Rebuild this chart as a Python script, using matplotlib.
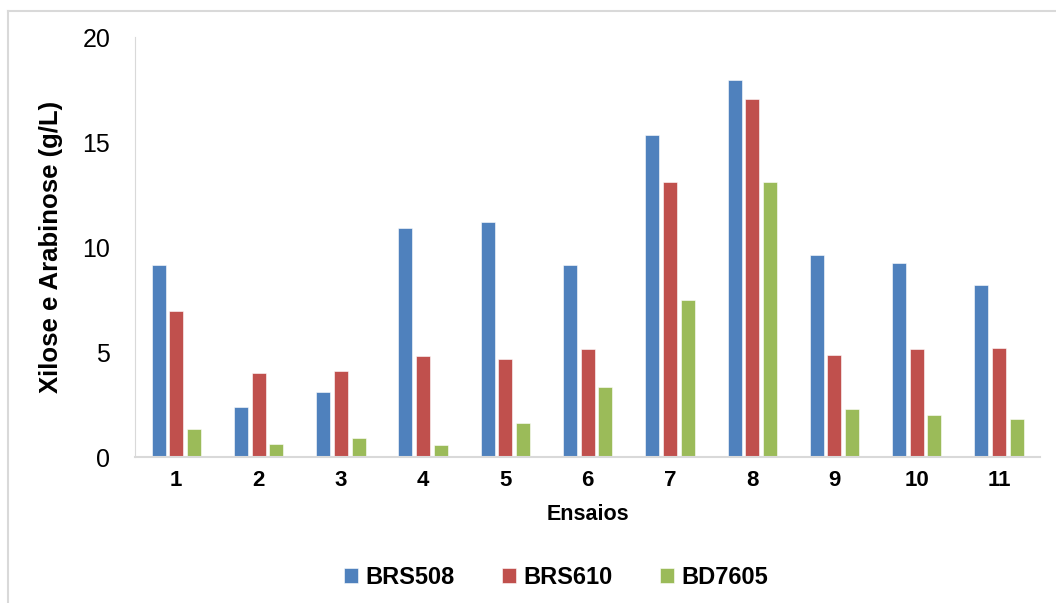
import numpy as np
import matplotlib.pyplot as plt
from matplotlib.lines import Line2D

plt.rcParams['font.family'] = ['Liberation Sans', 'DejaVu Sans']

# Dados
ensaios = ['1', '2', '3', '4', '5', '6', '7', '8', '9', '10', '11']
brs508 = [9.15, 2.4, 3.1, 10.9, 11.2, 9.15, 15.35, 17.95, 9.6, 9.25, 8.2]
brs610 = [6.95, 4.0, 4.1, 4.8, 4.65, 5.15, 13.1, 17.05, 4.85, 5.15, 5.2]
bd7605 = [1.35, 0.6, 0.9, 0.55, 1.6, 3.35, 7.5, 13.1, 2.3, 2.0, 1.8]
series = ['BRS508', 'BRS610', 'BD7605']
cores = ['#4F81BD', '#C0504D', '#9BBB59']

fig = plt.figure(figsize=(10.56, 6.03), dpi=100)
ax = fig.add_axes([0.128, 0.2421, 0.857, 0.6965])

x = np.arange(len(ensaios))
w = 0.17
passo = 0.215
for i, (vals, nome, cor) in enumerate(zip([brs508, brs610, bd7605], series, cores)):
    ax.bar(x + (i - 1) * passo, vals, width=w, color=cor, label=nome,
           edgecolor='white', linewidth=0.4)

ax.set_xlim(-0.5, len(ensaios) - 0.5)
ax.set_ylim(0, 20)
ax.set_yticks([0, 5, 10, 15, 20])
ax.set_xticks(x)
ax.set_xticklabels(ensaios, fontsize=16, fontweight='bold')
ax.tick_params(axis='y', length=0, labelsize=18, pad=18)
ax.tick_params(axis='x', length=0, pad=9)

for s in ['top', 'right']:
    ax.spines[s].set_visible(False)
ax.spines['left'].set_color('#D9D9D9')
ax.spines['bottom'].set_color('#D9D9D9')
ax.spines['bottom'].set_linewidth(1.5)

ax.set_xlabel('Ensaios', fontsize=15.5, fontweight='bold', labelpad=10)
ax.set_ylabel('Xilose e Arabinose (g/L)', fontsize=18.5, fontweight='bold', labelpad=14)

ax.legend(loc='center', bbox_to_anchor=(556 / 1056, 1 - 577 / 603),
          bbox_transform=fig.transFigure, ncol=3, frameon=False,
          prop={'size': 17, 'weight': 'bold'}, handlelength=0.6, handleheight=0.6,
          handletextpad=0.3, columnspacing=2.0)

# moldura do gráfico
fig.add_artist(Line2D([8 / 1056, 1.0], [1 - 11 / 603, 1 - 11 / 603], color='#D9D9D9', lw=1.5))
fig.add_artist(Line2D([8 / 1056, 8 / 1056], [1 - 11 / 603, 0], color='#D9D9D9', lw=1.5))

fig.savefig('out.png', dpi=100)
